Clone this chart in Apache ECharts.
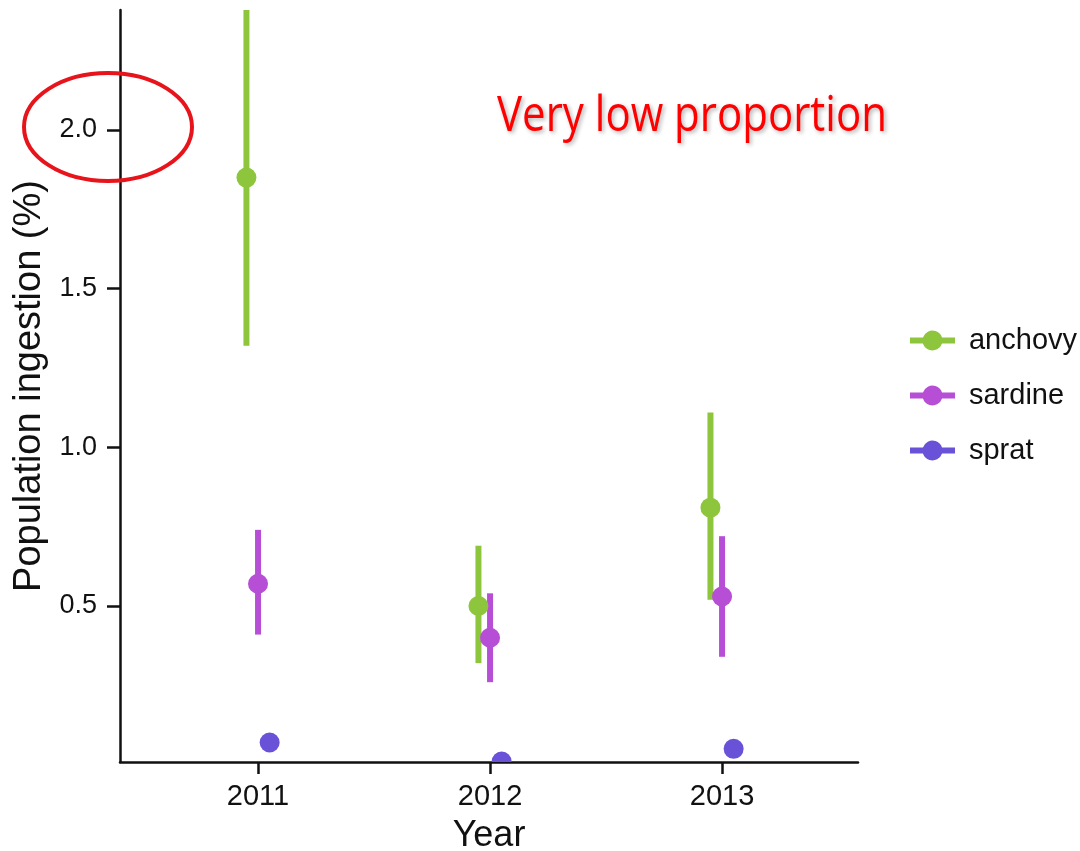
<!DOCTYPE html>
<html>
<head>
<meta charset="utf-8">
<title>Population ingestion</title>
<script src="https://cdn.jsdelivr.net/npm/echarts@6/dist/echarts.min.js"></script>
<style>
  html, body { margin: 0; padding: 0; background: #ffffff; }
  #chart { width: 1080px; height: 851px; }
</style>
</head>
<body>
<div id="chart"></div>
<script>
// Survey years and species
const years = [2011, 2012, 2013];
const species = ['anchovy', 'sardine', 'sprat'];
const yTicks = [0.5, 1.0, 1.5, 2.0];

// Mean population ingestion (%) with interval bounds
const anchovyMean = [1.85, 0.50, 0.81];
const anchovyLow  = [1.32, 0.32, 0.52];
const anchovyHigh = [2.45, 0.69, 1.11];

const sardineMean = [0.57, 0.40, 0.53];
const sardineLow  = [0.41, 0.26, 0.34];
const sardineHigh = [0.74, 0.54, 0.72];

const spratMean = [0.07, 0.01, 0.05];

const colors = { anchovy: '#8dc63c', sardine: '#b64fd6', sprat: '#6a52d8' };
// horizontal offset of each species within a year
const dodge = { anchovy: -0.05, sardine: 0, sprat: 0.05 };

// legend key: a thick horizontal stroke with a dot in the middle
const keyIcon = 'path://M0,7H12.96A10,10 0 0 1 32.04,7H45V13H32.04A10,10 0 0 1 12.96,13H0Z';

const chart = echarts.init(document.getElementById('chart'));

function pointSeries(name, means) {
  return {
    type: 'custom',
    name: name,
    clip: true,
    data: years.map((y, i) => [y + dodge[name], means[i]]),
    encode: { x: 0, y: 1 },
    itemStyle: { color: colors[name] },
    renderItem: function (params, api) {
      const p = api.coord([api.value(0), api.value(1)]);
      return {
        type: 'circle',
        shape: { cx: p[0], cy: p[1], r: 10 },
        style: { fill: colors[name] }
      };
    },
    z: 3
  };
}

function barSeries(name, lows, highs) {
  return {
    type: 'custom',
    name: name + ' interval',
    clip: true,
    data: years.map((y, i) => [y + dodge[name], lows[i], highs[i]]),
    encode: { x: 0, y: [1, 2] },
    renderItem: function (params, api) {
      const p1 = api.coord([api.value(0), api.value(1)]);
      const p2 = api.coord([api.value(0), api.value(2)]);
      return {
        type: 'line',
        shape: { x1: p1[0], y1: p1[1], x2: p2[0], y2: p2[1] },
        style: { stroke: colors[name], lineWidth: 6, lineCap: 'butt' }
      };
    },
    z: 2
  };
}

const axisFont = 'Liberation Sans, Arial, sans-serif';

chart.setOption({
  backgroundColor: '#ffffff',
  animation: false,
  grid: { left: 120, right: 222, top: 10, bottom: 89, containLabel: false, outerBoundsMode: 'none' },
  xAxis: {
    type: 'value',
    min: 2010.405,
    max: 2013.586,
    name: 'Year',
    nameLocation: 'middle',
    nameGap: 56,
    nameTextStyle: { fontFamily: axisFont, fontSize: 36, color: '#111' },
    axisLine: { show: true, lineStyle: { color: '#111', width: 2.5 } },
    axisTick: { show: true, length: 12, customValues: years, lineStyle: { color: '#111', width: 2.5 } },
    axisLabel: {
      customValues: years,
      formatter: v => String(Math.round(v)),
      fontFamily: axisFont, fontSize: 29, color: '#111', margin: 20
    },
    splitLine: { show: false }
  },
  yAxis: {
    type: 'value',
    min: 0.0085,
    max: 2.378,
    name: 'Population ingestion (%)',
    nameLocation: 'middle',
    nameGap: 70,
    nameTextStyle: { fontFamily: axisFont, fontSize: 38, color: '#111' },
    axisLine: { show: true, lineStyle: { color: '#111', width: 2.5 } },
    axisTick: { show: true, length: 13, customValues: yTicks, lineStyle: { color: '#111', width: 2.5 } },
    axisLabel: {
      customValues: yTicks,
      formatter: v => v.toFixed(1),
      fontFamily: axisFont, fontSize: 27, color: '#111', margin: 23
    },
    splitLine: { show: false }
  },
  legend: {
    data: species.map(s => ({ name: s, icon: keyIcon })),
    orient: 'vertical',
    left: 910,
    top: 326,
    padding: 0,
    itemWidth: 45,
    itemHeight: 20,
    itemGap: 26,
    textStyle: { fontFamily: axisFont, fontSize: 29, color: '#111', padding: [0, 0, 0, 9] }
  },
  series: [
    barSeries('anchovy', anchovyLow, anchovyHigh),
    barSeries('sardine', sardineLow, sardineHigh),
    pointSeries('anchovy', anchovyMean),
    pointSeries('sardine', sardineMean),
    pointSeries('sprat', spratMean)
  ],
  graphic: [
    {
      type: 'ellipse',
      shape: { cx: 108, cy: 127, rx: 84, ry: 54 },
      style: { fill: 'none', stroke: '#e8141b', lineWidth: 4 },
      z: 10
    },
    {
      type: 'text',
      x: 692,
      y: 117,
      scaleX: 0.84,
      style: {
        text: 'Very low proportion',
        fontFamily: 'Open Sans, Lato, sans-serif',
        fontSize: 50,
        fill: '#ff0000',
        align: 'center',
        verticalAlign: 'middle',
        textShadowColor: 'rgba(0,0,0,0.3)',
        textShadowBlur: 4,
        textShadowOffsetX: 2,
        textShadowOffsetY: 2
      },
      z: 10
    }
  ]
});
</script>
</body>
</html>
